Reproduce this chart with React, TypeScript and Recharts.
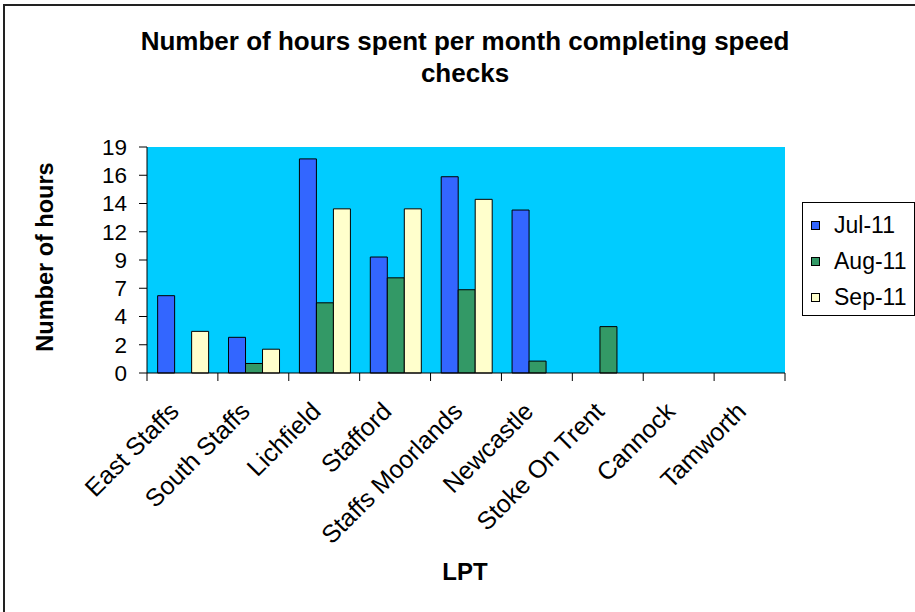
import React from "react";
import { BarChart, Bar, XAxis, YAxis, CartesianGrid, Legend } from "recharts";

// --- DATA ---
const CATEGORIES = ["East Staffs", "South Staffs", "Lichfield", "Stafford", "Staffs Moorlands", "Newcastle", "Stoke On Trent", "Cannock", "Tamworth"];
const JUL_11 = [6.5, 3, 18, 9.75, 16.5, 13.7, 0, 0, 0];
const AUG_11 = [0, 0.8, 5.9, 8, 7, 1, 3.9, 0, 0];
const SEP_11 = [3.5, 2, 13.8, 13.8, 14.6, 0, 0, 0, 0];
const SERIES_NAMES = ["Jul-11", "Aug-11", "Sep-11"];
const Y_TICKS = [0, 2.375, 4.75, 7.125, 9.5, 11.875, 14.25, 16.625, 19];
const Y_TICK_LABELS = ["0", "2", "4", "7", "9", "12", "14", "16", "19"];

// --- COLORS ---
const COLORS = ["#3366FF", "#339966", "#FFFFCC"];
const PLOT_BG = "#00CCFF";

const FONT = "'Liberation Sans', Arial, sans-serif";
const W = 915;
const H = 612;
const MARGIN = { top: 147, right: 130, bottom: 0, left: 0 };
const Y_AXIS_W = 147;
const X_AXIS_H = 239;
const BAND = (W - MARGIN.left - MARGIN.right - Y_AXIS_W) / CATEGORIES.length;

const data = CATEGORIES.map((lpt, i) => ({ lpt, jul: JUL_11[i], aug: AUG_11[i], sep: SEP_11[i] }));
const seriesKeys = ["jul", "aug", "sep"];

function CategoryTick(props: any) {
    const { x, y, payload, index } = props;
    const half = BAND / 2;
    return (
        <g>
            <line x1={x - half} x2={x - half} y1={y} y2={y + 8} stroke="#000" />
            {index === CATEGORIES.length - 1 && <line x1={x + half} x2={x + half} y1={y} y2={y + 8} stroke="#000" />}
            <text
                transform={`translate(${x - 2},${y + 40}) rotate(-45)`}
                textAnchor="end"
                fontSize={25}
                fontFamily={FONT}
                fill="#000"
            >
                {payload.value}
            </text>
        </g>
    );
}

function LegendBox() {
    return (
        <div
            style={{
                width: 113,
                height: 114,
                border: "1px solid #000",
                background: "#fff",
                boxSizing: "border-box",
                fontFamily: FONT,
                fontSize: 23,
                paddingTop: 4,
            }}
        >
            {SERIES_NAMES.map((name, i) => (
                <div key={name} style={{ display: "flex", alignItems: "center", height: 36 }}>
                    <span
                        style={{
                            display: "inline-block",
                            width: 7,
                            height: 7,
                            border: "1px solid #000",
                            background: COLORS[i],
                            marginLeft: 8,
                            marginRight: 14,
                        }}
                    />
                    <span>{name}</span>
                </div>
            ))}
        </div>
    );
}

export default function App() {
    return (
        <div style={{ position: "absolute", left: 0, top: 0, width: W, height: H, overflow: "hidden", background: "#fff" }}>
            <div
                style={{
                    position: "absolute",
                    left: 3,
                    top: 4,
                    width: W + 20,
                    height: H + 20,
                    borderLeft: "2px solid #222",
                    borderTop: "2px solid #222",
                }}
            />
            <div
                style={{
                    position: "absolute",
                    left: 0,
                    width: 930,
                    top: 25,
                    textAlign: "center",
                    fontFamily: FONT,
                    fontWeight: "bold",
                    fontSize: 26,
                    lineHeight: "32px",
                    color: "#000",
                }}
            >
                Number of hours spent per month completing speed
                <br />
                checks
            </div>
            <div
                style={{
                    position: "absolute",
                    left: 45,
                    top: 257,
                    transform: "translate(-50%, -50%) rotate(-90deg)",
                    whiteSpace: "nowrap",
                    fontFamily: FONT,
                    fontWeight: "bold",
                    fontSize: 23.5,
                    color: "#000",
                }}
            >
                Number of hours
            </div>
            <div
                style={{
                    position: "absolute",
                    left: 465,
                    top: 572,
                    transform: "translate(-50%, -50%)",
                    fontFamily: FONT,
                    fontWeight: "bold",
                    fontSize: 24,
                    color: "#000",
                }}
            >
                LPT
            </div>
            <BarChart width={W} height={H} data={data} margin={MARGIN} barGap={0} barCategoryGap="15%">
                <CartesianGrid horizontal={false} vertical={false} fill={PLOT_BG} stroke="none" />
                <XAxis
                    dataKey="lpt"
                    height={X_AXIS_H}
                    interval={0}
                    tickSize={0}
                    tickMargin={0}
                    tickLine={false}
                    axisLine={{ stroke: "#000" }}
                    tick={<CategoryTick />}
                />
                <YAxis
                    width={Y_AXIS_W}
                    domain={[0, 19]}
                    ticks={Y_TICKS}
                    interval={0}
                    tickFormatter={(v: number) => Y_TICK_LABELS[Y_TICKS.indexOf(v)]}
                    tickSize={8}
                    tickMargin={12}
                    tickLine={{ stroke: "#000" }}
                    axisLine={{ stroke: "#000" }}
                    tick={{ fill: "#000", fontSize: 22.5, fontFamily: FONT }}
                />
                <Legend
                    layout="horizontal"
                    verticalAlign="middle"
                    align="center"
                    wrapperStyle={{ position: "absolute", left: 802, top: 202, width: 113 }}
                    content={() => <LegendBox />}
                />
                {seriesKeys.map((k, i) => (
                    <Bar
                        key={k}
                        dataKey={k}
                        name={SERIES_NAMES[i]}
                        fill={COLORS[i]}
                        stroke="#000"
                        strokeWidth={1}
                        isAnimationActive={false}
                    />
                ))}
            </BarChart>
        </div>
    );
}
